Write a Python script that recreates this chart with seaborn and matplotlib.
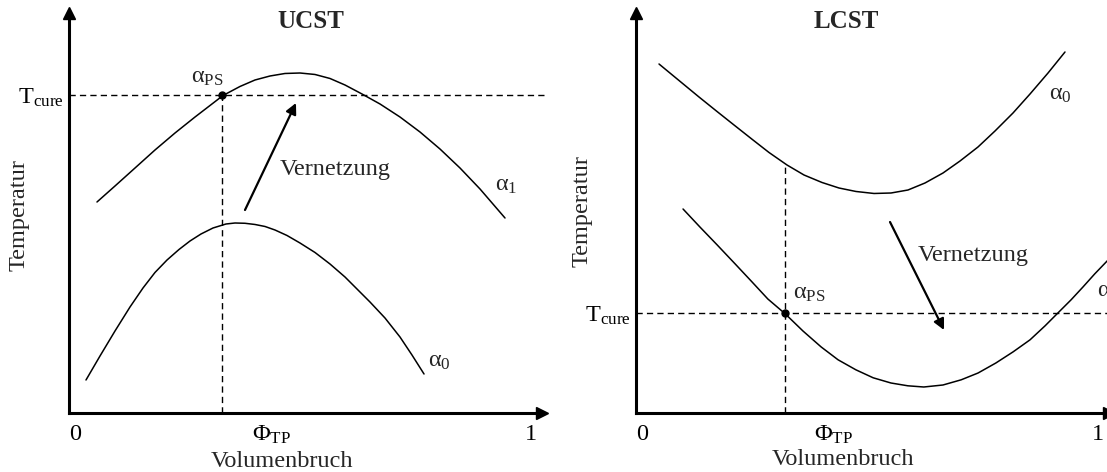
import matplotlib
matplotlib.use("Agg")
import matplotlib.pyplot as plt
import seaborn as sns
import pandas as pd

# ---------------- data (schematic) ----------------
# volume fraction (0..1) and temperature (arbitrary 0..1)
ucst_a1_x = [0.0482, 0.0877, 0.1316, 0.1754, 0.2193, 0.2632, 0.2961, 0.3246, 0.3618, 0.3947,
             0.4276, 0.4605, 0.4934, 0.5263, 0.5592, 0.5921, 0.6294, 0.6689, 0.7127, 0.7566,
             0.8004, 0.8443, 0.8882, 0.9430]
ucst_a1_t = [0.5275, 0.5675, 0.6125, 0.6575, 0.7000, 0.7400, 0.7688, 0.7938, 0.8163, 0.8325,
             0.8425, 0.8488, 0.8500, 0.8463, 0.8363, 0.8200, 0.7975, 0.7725, 0.7400, 0.7025,
             0.6600, 0.6125, 0.5600, 0.4875]
ucst_a0_x = [0.0241, 0.0548, 0.0877, 0.1206, 0.1491, 0.1754, 0.2018, 0.2281, 0.2522, 0.2763,
             0.3026, 0.3311, 0.3509, 0.3728, 0.3947, 0.4167, 0.4386, 0.4649, 0.4934, 0.5263,
             0.5592, 0.5921, 0.6206, 0.6469, 0.6798, 0.7127, 0.7390, 0.7654]
ucst_a0_t = [0.0825, 0.1425, 0.2050, 0.2650, 0.3125, 0.3513, 0.3825, 0.4088, 0.4300, 0.4475,
             0.4625, 0.4725, 0.4750, 0.4743, 0.4713, 0.4663, 0.4575, 0.4438, 0.4250, 0.4013,
             0.3725, 0.3400, 0.3075, 0.2775, 0.2375, 0.1900, 0.1450, 0.0975]
ucst_tcure = 0.795
ucst_phi_ps = 0.322

lcst_a0_x = [0.0373, 0.0811, 0.1250, 0.1645, 0.2018, 0.2412, 0.2785, 0.3180, 0.3553, 0.3947,
             0.4320, 0.4693, 0.5088, 0.5461, 0.5833, 0.6206, 0.6601, 0.6974, 0.7368, 0.7741,
             0.8136, 0.8509, 0.8904, 0.9276]
lcst_a0_t = [0.8725, 0.8313, 0.7900, 0.7538, 0.7200, 0.6845, 0.6513, 0.6200, 0.5950, 0.5763,
             0.5625, 0.5538, 0.5488, 0.5500, 0.5575, 0.5750, 0.6000, 0.6300, 0.6650, 0.7050,
             0.7500, 0.7975, 0.8500, 0.9025]
lcst_a1_x = [0.090, 0.127, 0.165, 0.204, 0.241, 0.276, 0.314, 0.353, 0.393, 0.430,
             0.469, 0.507, 0.546, 0.583, 0.618, 0.660, 0.700, 0.737, 0.776, 0.814,
             0.851, 0.884, 0.912, 0.941, 0.967, 0.993, 1.020, 1.048]
lcst_a1_t = [0.510, 0.465, 0.420, 0.373, 0.328, 0.285, 0.248, 0.205, 0.165, 0.133,
             0.108, 0.088, 0.075, 0.068, 0.065, 0.070, 0.083, 0.100, 0.125, 0.153,
             0.183, 0.218, 0.250, 0.283, 0.315, 0.348, 0.380, 0.415]
lcst_tcure = 0.25
lcst_phi_ps = 0.3136
lcst_vline_top = 0.620

x_tick_pos = [0.0, 1.0]
x_tick_lab = ["0", "1"]

# ---------------- style ----------------
sns.set_theme(style="white")
plt.rcParams["font.family"] = ["Liberation Serif", "DejaVu Serif"]
plt.rcParams["mathtext.fontset"] = "custom"
plt.rcParams["mathtext.rm"] = "Liberation Serif"
plt.rcParams["mathtext.it"] = "Liberation Serif"
plt.rcParams["mathtext.bf"] = "Liberation Serif:bold"

FS = 17.5
W, H = 1107, 472
fig = plt.figure(figsize=(W / 100, H / 100), dpi=100)
fig.patch.set_facecolor("white")

def px_axes(x0, x1, ytop, ybot):
    return fig.add_axes([x0 / W, (H - ybot) / H, (x1 - x0) / W, (ybot - ytop) / H])

axL = px_axes(69, 542, 13, 413)
axR = px_axes(636, 1109, 13, 413)

XLIM = (-0.01316, 1.02412)
YLIM = (0, 1)

curve_kw = dict(color="black", linewidth=1.1, sort=False, estimator=None, legend=False)
dash_kw = dict(color="black", linewidth=1.0, linestyle=(0, (4.5, 3)), clip_on=False)
arrow_kw = dict(arrowstyle="-|>", color="black", lw=1.6, mutation_scale=16, shrinkA=0, shrinkB=0)

def setup(ax, tcure, phi_x):
    ax.set_facecolor("white")
    ax.set_xlim(*XLIM)
    ax.set_ylim(*YLIM)
    for s in ["top", "right"]:
        ax.spines[s].set_visible(False)
    for s in ["left", "bottom"]:
        ax.spines[s].set_linewidth(2.2)
        ax.spines[s].set_color("black")
    ax.plot(0, 1, marker="^", color="black", markersize=9, transform=ax.transAxes, clip_on=False)
    ax.plot(1, 0, marker=">", color="black", markersize=9, transform=ax.transAxes, clip_on=False)
    ax.set_xticks(x_tick_pos + [phi_x])
    ax.set_xticklabels(x_tick_lab + [r"$\Phi_{\mathrm{TP}}$"], fontsize=FS)
    ax.set_yticks([tcure])
    ax.set_yticklabels([r"$\mathrm{T}_{\mathrm{cure}}$"], fontsize=FS)
    ax.tick_params(axis="both", length=0, colors="black")
    ax.tick_params(axis="x", pad=8)
    ax.tick_params(axis="y", pad=4)
    ax.set_xlabel("")
    ax.set_ylabel("")

# ---------------- UCST ----------------
sns.lineplot(data=pd.DataFrame({"x": ucst_a1_x, "T": ucst_a1_t}), x="x", y="T", ax=axL, **curve_kw)
sns.lineplot(data=pd.DataFrame({"x": ucst_a0_x, "T": ucst_a0_t}), x="x", y="T", ax=axL, **curve_kw)
setup(axL, ucst_tcure, 0.432)
axL.plot([XLIM[0], 1.031], [ucst_tcure, ucst_tcure], **dash_kw)
axL.plot([ucst_phi_ps, ucst_phi_ps], [0, ucst_tcure], **dash_kw)
axL.plot([ucst_phi_ps], [ucst_tcure], "o", color="black", markersize=5, zorder=5)
axL.annotate("", xy=(0.4846, 0.775), xytext=(0.3728, 0.5075), arrowprops=arrow_kw)
axL.text(0.4496, 0.6075, "Vernetzung", fontsize=FS, ha="left", va="center")
axL.text(0.2906, 0.838, r"$\alpha_{\mathrm{PS}}$", fontsize=FS, ha="center", va="center")
axL.text(0.921, 0.570, r"$\alpha_{1}$", fontsize=FS, ha="left", va="center")
axL.text(0.774, 0.128, r"$\alpha_{0}$", fontsize=FS, ha="left", va="center")
axL.text(0.5175, 0.9775, "UCST", fontsize=FS + 0.5, fontweight="bold", ha="center", va="center")
axL.text(-0.1228, 0.495, "Temperatur", fontsize=FS, rotation=90, ha="center", va="center")
axL.text(0.454, -0.122, "Volumenbruch", fontsize=FS, ha="center", va="center", clip_on=False)

# ---------------- LCST ----------------
sns.lineplot(data=pd.DataFrame({"x": lcst_a0_x, "T": lcst_a0_t}), x="x", y="T", ax=axR, **curve_kw)
sns.lineplot(data=pd.DataFrame({"x": lcst_a1_x, "T": lcst_a1_t}), x="x", y="T", ax=axR, **curve_kw)
setup(axR, lcst_tcure, 0.421)
axR.plot([XLIM[0], 1.1], [lcst_tcure, lcst_tcure], **dash_kw)
axR.plot([lcst_phi_ps, lcst_phi_ps], [0, lcst_vline_top], **dash_kw)
axR.plot([lcst_phi_ps], [lcst_tcure], "o", color="black", markersize=5, zorder=5)
axR.annotate("", xy=(0.6623, 0.2075), xytext=(0.5439, 0.4775), arrowprops=arrow_kw)
axR.text(0.6053, 0.395, "Vernetzung", fontsize=FS, ha="left", va="center")
axR.text(0.331, 0.30, r"$\alpha_{\mathrm{PS}}$", fontsize=FS, ha="left", va="center")
axR.text(0.8925, 0.795, r"$\alpha_{0}$", fontsize=FS, ha="left", va="center")
axR.text(0.998, 0.305, r"$\alpha_{1}$", fontsize=FS, ha="left", va="center", clip_on=False)
axR.text(0.4474, 0.9775, "LCST", fontsize=FS + 0.5, fontweight="bold", ha="center", va="center")
axR.text(-0.1316, 0.505, "Temperatur", fontsize=FS, rotation=90, ha="center", va="center")
axR.text(0.441, -0.117, "Volumenbruch", fontsize=FS, ha="center", va="center", clip_on=False)

fig.savefig("out.png", dpi=100, facecolor="white")
